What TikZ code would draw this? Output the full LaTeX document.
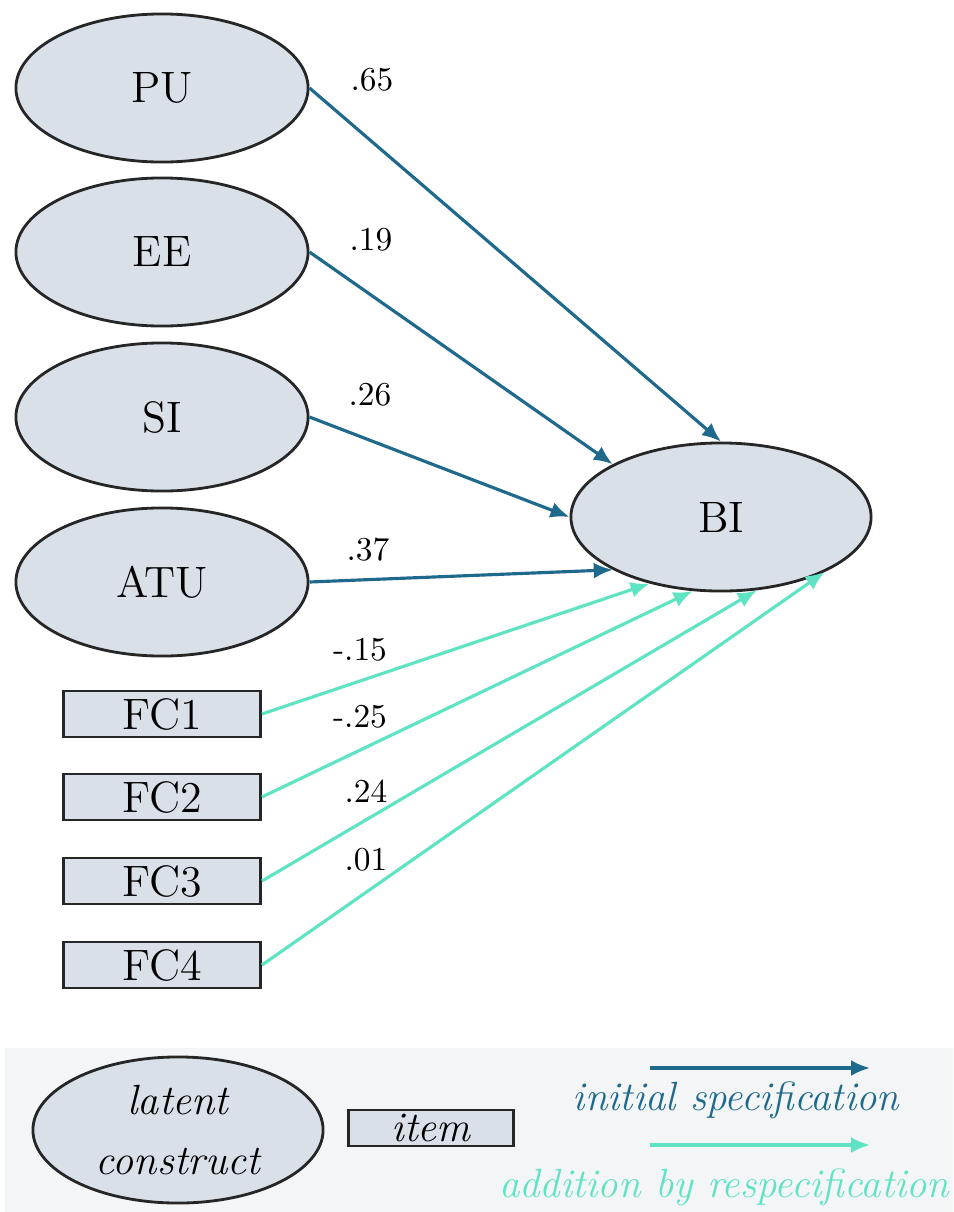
\documentclass[tikz,border=0pt]{standalone}
\usetikzlibrary{shapes.geometric,arrows.meta}
\definecolor{initblue}{HTML}{1F6A8C}
\definecolor{respec}{HTML}{5EE3C3}
\definecolor{nodefill}{HTML}{D9E0E8}
\definecolor{legendbg}{HTML}{F3F5F7}
\tikzset{
  latent/.style={ellipse,draw=black!85,line width=0.8pt,fill=nodefill,minimum width=2.92cm,minimum height=1.48cm,inner sep=0pt,font=\fontsize{12.5}{15}\selectfont},
  itembox/.style={rectangle,draw=black!85,line width=0.8pt,fill=nodefill,minimum width=1.97cm,minimum height=0.46cm,inner sep=0pt,font=\fontsize{12.5}{15}\selectfont},
  initarrow/.style={draw=initblue,line width=0.9pt,-{Latex[length=1.9mm,width=1.6mm]}},
  respecarrow/.style={draw=respec,line width=0.9pt,-{Latex[length=1.9mm,width=1.6mm]}},
  coef/.style={font=\fontsize{9.5}{11}\selectfont,inner sep=0pt}
}
\begin{document}
\begin{tikzpicture}[x=0.01cm,y=-0.01cm]
\useasboundingbox (0,0) rectangle (953,1212);
% nodes
\node[latent] (PU) at (162,88) {PU};
\node[latent] (EE) at (162,252) {EE};
\node[latent] (SI) at (162,417) {SI};
\node[latent] (ATU) at (162,582) {ATU};
\node[latent,minimum width=3.0cm] (BI) at (721,517) {BI};
\node[itembox] (FC1) at (162,714) {FC1};
\node[itembox] (FC2) at (162,797) {FC2};
\node[itembox] (FC3) at (162,881) {FC3};
\node[itembox] (FC4) at (162,965) {FC4};
% connectors
\draw[initarrow] (PU.east) -- (BI.90);
\draw[initarrow] (EE.east) -- (BI.154.5);
\draw[initarrow] (SI.east) -- (BI.180);
\draw[initarrow] (ATU.east) -- (BI.206.6);
\draw[respecarrow] (FC1.east) -- (BI.223);
\draw[respecarrow] (FC2.east) -- (BI.249.5);
\draw[respecarrow] (FC3.east) -- (BI.296.3);
\draw[respecarrow] (FC4.east) -- (BI.332.8);
% coefficients
\node[coef] (c1) at (372,80) {.65};
\node[coef] (c2) at (371,240) {.19};
\node[coef] (c3) at (370,395) {.26};
\node[coef] (c4) at (368,550) {.37};
\node[coef] (c5) at (360,650) {-.15};
\node[coef] (c6) at (360,717) {-.25};
\node[coef] (c7) at (366,791) {.24};
\node[coef] (c8) at (366,860) {.01};
% legend
\fill[legendbg] (5,1048) rectangle (953,1212);
\node[latent,minimum width=2.9cm,minimum height=1.46cm,align=center,font=\fontsize{12}{17}\itshape] (Lc) at (178,1130) {latent\\construct};
\node[itembox,minimum width=1.65cm,minimum height=0.36cm,font=\fontsize{12}{14}\itshape] (Li) at (431,1128) {item};
\coordinate (a1s) at (650,1068);
\coordinate (a1e) at (870,1068);
\coordinate (a2s) at (650,1145);
\coordinate (a2e) at (870,1145);
\draw[initarrow] (a1s) -- (a1e);
\draw[respecarrow] (a2s) -- (a2e);
\node[text=initblue,font=\fontsize{11.6}{14}\itshape,inner sep=0pt] (Lt1) at (736,1100) {initial specification};
\node[text=respec,font=\fontsize{11.6}{14}\itshape,inner sep=0pt,anchor=east] (Lt2) at (950,1187) {addition by respecification};
\end{tikzpicture}
\end{document}
